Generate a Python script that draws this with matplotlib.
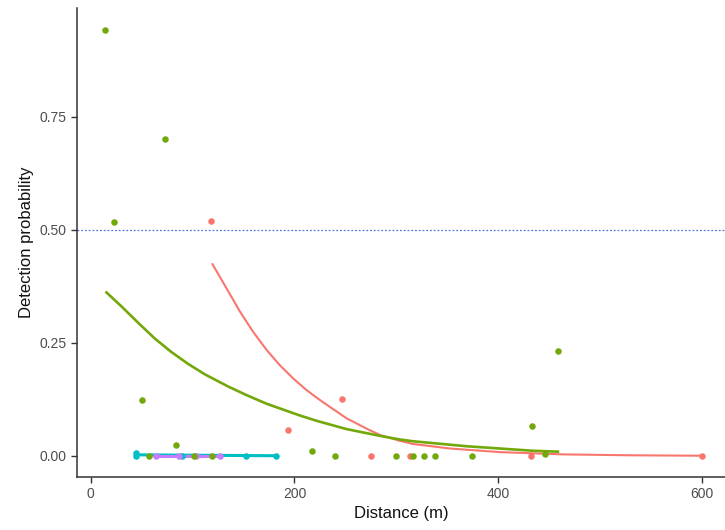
import matplotlib
matplotlib.use("Agg")
import matplotlib.pyplot as plt

plt.rcParams["font.family"] = ["Liberation Sans", "DejaVu Sans"]

# colours (ggplot default hue palette, 4 groups)
red = "#F8766D"
green = "#72A80A"
cyan = "#00BFC4"
purple = "#C77CFF"

# observed points per group
red_x = [117.9, 193.8, 246.6, 275.3, 313.4, 432.2, 600.5]
red_y = [0.52, 0.057, 0.125, 0.0, 0.0, 0.0, 0.0]

green_x = [13.7, 22.5, 50.0, 57.0, 72.5, 83.2, 101.4, 119.0, 217.0, 239.4,
           299.6, 316.6, 327.0, 338.0, 374.6, 433.5, 446.0, 458.7]
green_y = [0.942, 0.517, 0.123, 0.0, 0.70, 0.024, 0.0, 0.0, 0.011, 0.0,
           0.0, 0.0, 0.0, 0.0, 0.0, 0.065, 0.004, 0.232]

cyan_x = [44.2, 44.2, 89.1, 152.9, 181.4]
cyan_y = [0.006, 0.0, 0.0, 0.0, 0.0]

purple_x = [64.5, 87.0, 103.0, 127.3]
purple_y = [0.0, 0.0, 0.0, 0.0]

# fitted curves
red_fit_x = [119.5, 133.3, 146.4, 159.4, 172.6, 185.7, 198.7, 211.9, 225.1,
             238.0, 251.0, 270.8, 283.8, 303.5, 316.5, 352.7, 401.8, 463.7,
             530.0, 600.5]
red_fit_y = [0.4235, 0.370, 0.319, 0.274, 0.234, 0.200, 0.171, 0.145, 0.123,
             0.103, 0.083, 0.060, 0.046, 0.033, 0.026, 0.016, 0.008, 0.003,
             0.001, 0.0]

green_fit_x = [15.4, 30.2, 46.5, 62.9, 79.3, 95.6, 112.0, 134.9, 153.0, 172.6,
               205.3, 222.1, 251.0, 283.8, 303.5, 316.5, 369.0, 434.0, 458.7]
green_fit_y = [0.361, 0.330, 0.294, 0.259, 0.229, 0.203, 0.180, 0.153, 0.134,
               0.115, 0.089, 0.077, 0.059, 0.044, 0.036, 0.032, 0.021, 0.011,
               0.009]

cyan_fit_x = [44.2, 181.4]
cyan_fit_y = [0.002, 0.0]

purple_fit_x = [64.5, 127.3]
purple_fit_y = [0.0, 0.0]

threshold = 0.5

fig = plt.figure(figsize=(7.25, 5.3), dpi=100)
ax = fig.add_axes([0.106, 0.1, 0.894, 0.885])

ax.axhline(threshold, color="#5576d9", linestyle=(0, (1.5, 1.5)), linewidth=0.9, zorder=1)

ax.plot(cyan_fit_x, cyan_fit_y, color=cyan, linewidth=2.2, zorder=2)
ax.plot(purple_fit_x, purple_fit_y, color=purple, linewidth=2.2, zorder=2)
ax.plot(red_fit_x, red_fit_y, color=red, linewidth=1.5, zorder=2)
ax.plot(green_fit_x, green_fit_y, color=green, linewidth=1.9, zorder=2)

ms = 22
ax.scatter(cyan_x, cyan_y, s=ms, color=cyan, zorder=3, linewidths=0)
ax.scatter(purple_x, purple_y, s=ms, color=purple, zorder=3, linewidths=0)
ax.scatter(red_x, red_y, s=ms, color=red, zorder=3, linewidths=0)
ax.scatter(green_x, green_y, s=ms, color=green, zorder=3, linewidths=0)

ax.set_xlim(-13.7, 622.8)
ax.set_ylim(-0.047, 0.99)
ax.set_xticks([0, 200, 400, 600])
ax.set_yticks([0.0, 0.25, 0.5, 0.75])
ax.set_yticklabels(["0.00", "0.25", "0.50", "0.75"])

for side in ["top", "right"]:
    ax.spines[side].set_visible(False)
for side in ["left", "bottom"]:
    ax.spines[side].set_color("#333333")
    ax.spines[side].set_linewidth(1.1)

ax.tick_params(axis="both", colors="#333333", labelcolor="#4d4d4d",
               labelsize=10, length=4, width=1)
ax.set_xlabel("Distance (m)", fontsize=12, color="#111111", labelpad=3)
ax.set_ylabel("Detection probability", fontsize=12, color="#111111", labelpad=4)

fig.savefig("out.png", dpi=100)
